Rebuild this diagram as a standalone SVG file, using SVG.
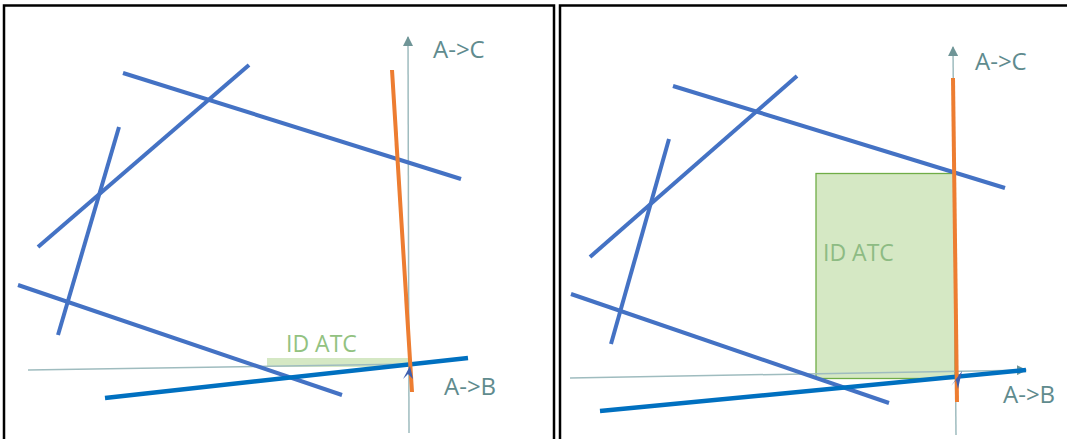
<svg xmlns="http://www.w3.org/2000/svg" width="1067" height="439" viewBox="0 0 1067 439">
<style>
.frame{fill:none;stroke:#000;stroke-width:2.5}
.axis{stroke:#9fbcbf;stroke-width:1.5;fill:none}
.blue{stroke:#4472c4;stroke-width:4;stroke-linecap:butt}
.dblue{stroke:#0070c0;stroke-width:4.5}
.orange{stroke:#ed7d31;stroke-width:4}
.lbl{font-family:"Open Sans","Liberation Sans",sans-serif;font-size:24px;fill:#5f8b8e}
.idtxt{font-family:"Open Sans","Liberation Sans",sans-serif;font-size:23px;fill:#92c281}
.idtxt2{font-family:"Open Sans","Liberation Sans",sans-serif;font-size:23px;fill:#8dbb83}
.nav{fill:#3f5fae}
</style>
<defs>
<marker id="ahb" viewBox="0 0 10 10" refX="9" refY="5" markerWidth="10" markerHeight="10" orient="auto" markerUnits="userSpaceOnUse">
<path d="M0,0 L10,5 L0,10 z" fill="#6f9597"/>
</marker>
</defs>
<rect x="0" y="0" width="1067" height="439" fill="#fff"/>
<g id="panel-left">
<rect class="frame" x="4" y="5.5" width="550" height="440"/>
</g>
<g id="panel-right">
<rect class="frame" x="560" y="5.5" width="520" height="440"/>
</g>
<g id="left-rect">
<rect x="267" y="358" width="143" height="9" fill="#d5e8c4"/>
<text class="idtxt" x="286" y="352">ID ATC</text>
</g>
<g id="right-rect">
<rect x="816" y="173.5" width="139" height="205" fill="#d5e8c4" stroke="#70ad47" stroke-width="1.3"/>
<text class="idtxt2" x="823" y="261">ID ATC</text>
</g>
<g id="connectors">
<line class="axis" x1="409" y1="433" x2="408" y2="37" marker-end="url(#ahb)"/>
<line class="axis" x1="28" y1="370" x2="411" y2="364"/>
<line class="blue" x1="123" y1="73" x2="461" y2="179"/>
<line class="blue" x1="38" y1="247" x2="249" y2="65"/>
<line class="blue" x1="119" y1="127" x2="58" y2="335"/>
<line class="blue" x1="18" y1="285" x2="342" y2="395"/>
<line class="dblue" x1="105" y1="398" x2="468" y2="358"/>
<line class="orange" x1="392" y1="70" x2="412" y2="392"/>
<polygon class="nav" points="410,366 403,379 408,374 413,379"/>
<line class="axis" x1="956" y1="435" x2="953" y2="47" marker-end="url(#ahb)"/>
<line class="axis" x1="570" y1="378" x2="1026" y2="370" marker-end="url(#ahb)"/>
<line class="blue" x1="673" y1="86" x2="1005" y2="188"/>
<line class="blue" x1="590" y1="257" x2="797" y2="76"/>
<line class="blue" x1="669" y1="139" x2="611" y2="344"/>
<line class="blue" x1="571" y1="294" x2="889" y2="403"/>
<line class="dblue" x1="600" y1="411" x2="1026" y2="370"/>
<line class="orange" x1="953" y1="78" x2="957" y2="402"/>
<polygon class="nav" points="962,371 951,386 956,380 958,389"/>
</g>
<g id="labels">
<text class="lbl" x="433" y="58">A-&gt;C</text>
<text class="lbl" x="444" y="395">A-&gt;B</text>
<text class="lbl" x="975" y="70">A-&gt;C</text>
<text class="lbl" x="1003" y="403">A-&gt;B</text>
</g>
</svg>
